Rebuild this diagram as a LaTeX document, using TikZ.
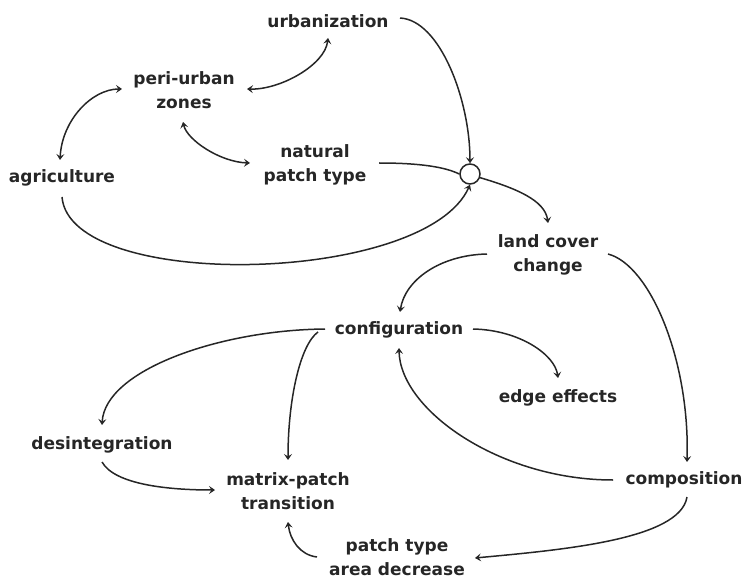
\documentclass[tikz,border=0pt]{standalone}
\usepackage{fontspec}
\setmainfont{DejaVu Sans}
\usetikzlibrary{arrows.meta}
\begin{document}
\begin{tikzpicture}[x=1pt,y=-1pt,
  lbl/.style={font=\fontsize{17}{24}\selectfont\bfseries, align=center, inner sep=0pt, text=black!85},
  conn/.style={line width=1.5pt, draw=black!85},
  >={Stealth[length=6pt,width=8pt,inset=2.5pt]}]
\useasboundingbox (0,0) rectangle (747,580);
% nodes
\node[lbl] (urb) at (328,21) {urbanization};
\node[lbl] (peri) at (184,90) {peri-urban\\zones};
\node[lbl] (agri) at (62,178) {agriculture};
\node[lbl] (nat) at (315,165) {natural\\patch type};
\node[circle, draw=black!85, line width=1.5pt, minimum size=20pt, inner sep=0pt] (c) at (470,174) {};
\node[lbl] (land) at (548,255) {land cover\\change};
\node[lbl] (conf) at (399,330) {configuration};
\node[lbl] (edge) at (558,398) {edge effects};
\node[lbl] (desint) at (102,445) {desintegration};
\node[lbl] (matrix) at (288,491) {matrix-patch\\transition};
\node[lbl] (comp) at (684,480) {composition};
\node[lbl] (patch) at (397,557) {patch type\\area decrease};
% connectors
\draw[conn,<->] ([shift={(0,17)}]urb.center) .. controls (325,65) and (280,90) .. ([shift={(63,-1)}]peri.center);
\draw[conn,<->] ([shift={(-62,-1)}]peri.center) .. controls (92,89) and (62,120) .. ([shift={(-2,-18)}]agri.center);
\draw[conn,<->] ([shift={(-1,32)}]peri.center) .. controls (187,140) and (220,162) .. ([shift={(-65,-2)}]nat.center);
\draw[conn,->] ([shift={(72,-3)}]urb.center) .. controls (440,20) and (470,100) .. (c.north);
\draw[conn] ([shift={(64,-2)}]nat.center) .. controls (420,163) and (445,167) .. (c.west);
\draw[conn,->] ([shift={(0,19)}]agri.center) .. controls (70,292) and (425,285) .. (c.south);
\draw[conn,->] (c.-20) .. controls (515,188) and (545,200) .. ([shift={(0,-32)}]land.center);
\draw[conn,->] ([shift={(-61,-1)}]land.center) .. controls (440,255) and (405,280) .. ([shift={(1,-18)}]conf.center);
\draw[conn,->] ([shift={(60,-1)}]land.center) .. controls (650,265) and (690,360) .. ([shift={(3,-18)}]comp.center);
\draw[conn,->] ([shift={(74,-1)}]conf.center) .. controls (520,330) and (555,355) .. ([shift={(0,-20)}]edge.center);
\draw[conn,->] ([shift={(-74,-1)}]conf.center) .. controls (220,330) and (105,370) .. ([shift={(0,-20)}]desint.center);
\draw[conn,->] ([shift={(-81,2)}]conf.center) .. controls (300,345) and (288,400) .. ([shift={(0,-31)}]matrix.center);
\draw[conn,->] ([shift={(0,17)}]desint.center) .. controls (115,485) and (170,490) .. ([shift={(-73,-1)}]matrix.center);
\draw[conn,->] ([shift={(-71,0)}]comp.center) .. controls (500,480) and (400,410) .. ([shift={(0,18)}]conf.center);
\draw[conn,->] ([shift={(3,17)}]comp.center) .. controls (680,540) and (560,550) .. ([shift={(78,1)}]patch.center);
\draw[conn,->] ([shift={(-80,0)}]patch.center) .. controls (300,555) and (290,540) .. ([shift={(0,31)}]matrix.center);
\end{tikzpicture}
\end{document}
